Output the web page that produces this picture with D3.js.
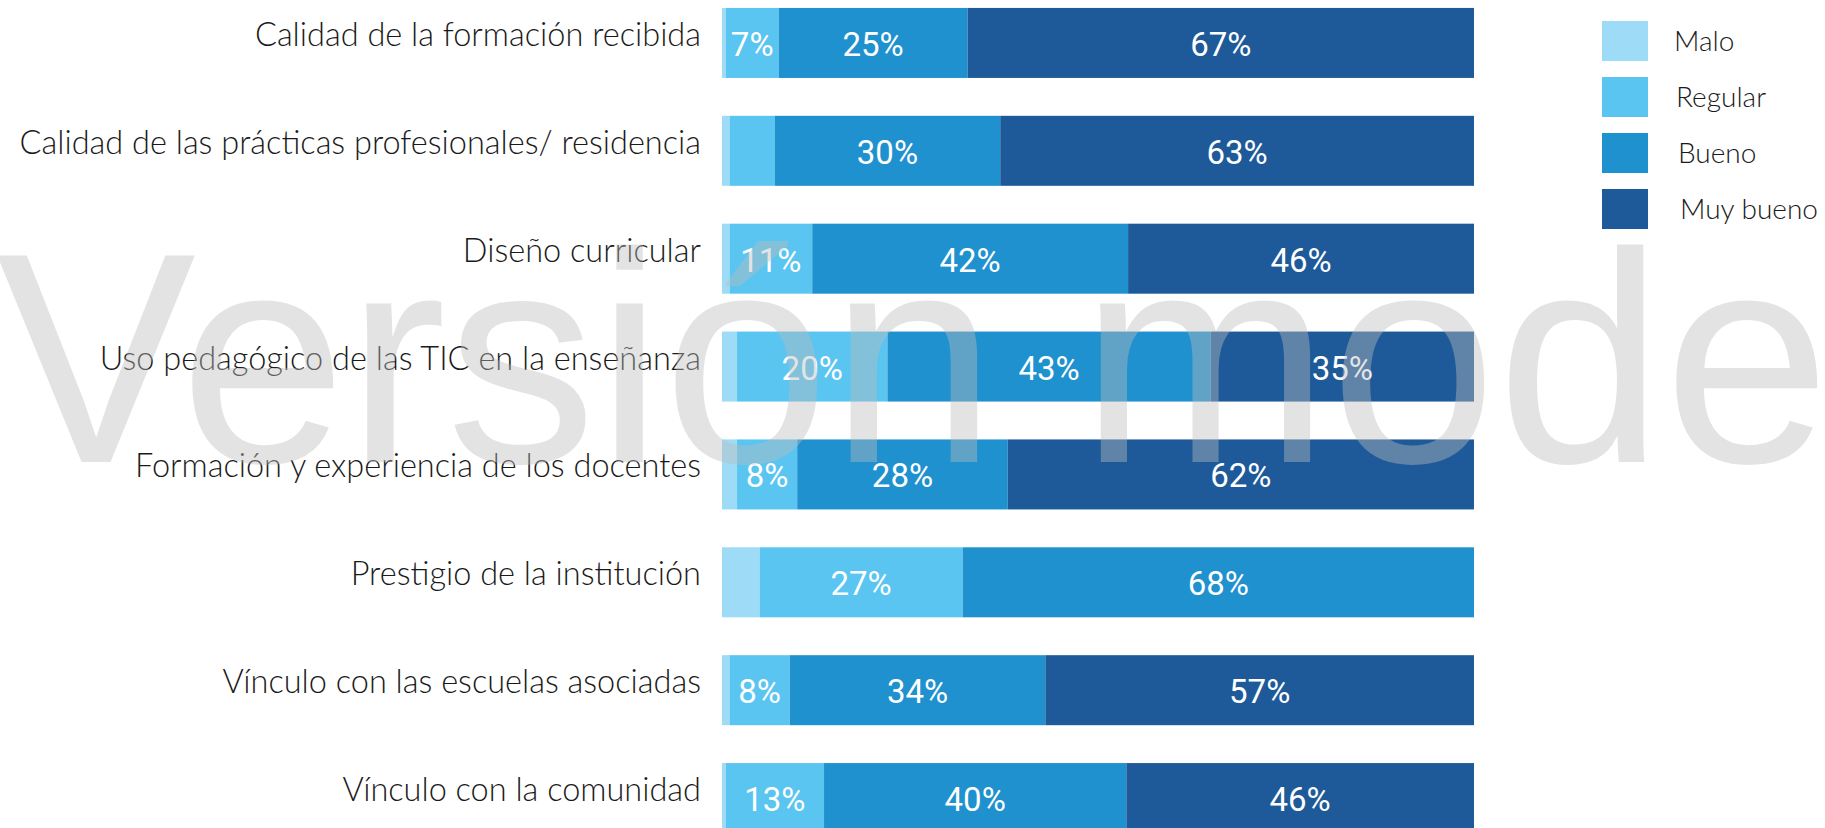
<!DOCTYPE html>
<meta charset="utf-8">
<script src="https://d3js.org/d3.v7.min.js"></script>
<style>
    body { margin: 0; background-color: white; overflow: hidden; }
    svg { display: block; }
</style>
<body>
<div id="chart"></div>
<script>
    // categories (top to bottom) and the share of each answer, in %
    const categorias = [
        "Calidad de la formación recibida",
        "Calidad de las prácticas profesionales/ residencia",
        "Diseño curricular",
        "Uso pedagógico de las TIC en la enseñanza",
        "Formación y experiencia de los docentes",
        "Prestigio de la institución",
        "Vínculo con las escuelas asociadas",
        "Vínculo con la comunidad"
    ];
    const respuestas = ["Malo", "Regular", "Bueno", "Muy bueno"];
    const malo     = [0.5, 1, 1, 2, 2, 5, 1, 0.5];
    const regular  = [7, 6, 11, 20, 8, 27, 8, 13];
    const bueno    = [25, 30, 42, 43, 28, 68, 34, 40];
    const muyBueno = [67, 63, 46, 35, 62, 0, 57, 46];
    const colores  = ["#9ddbf6", "#5bc5f2", "#1f91cf", "#1e5a99"];
    const marcaAgua = "Versión modelo";

    var width = 1825, height = 828;

    // build rows for d3.stack
    var rows = categorias.map(function (c, i) {
        return { cat: c, "Malo": malo[i], "Regular": regular[i], "Bueno": bueno[i], "Muy bueno": muyBueno[i] };
    });

    var stacked = d3.stack()
        .keys(respuestas)
        .offset(d3.stackOffsetExpand)(rows);

    var svg = d3.select("#chart").append("svg")
        .attr("width", width)
        .attr("height", height);

    var x = d3.scaleLinear()
        .domain([0, 1])
        .range([722, 1474]);

    var y = d3.scaleBand()
        .domain(categorias)
        .range([-11, 852])
        .paddingInner(0.351)
        .paddingOuter(0.1755);

    // bars
    var series = svg.selectAll("g.series")
        .data(stacked)
        .enter().append("g")
        .attr("class", "series")
        .attr("fill", function (d, i) { return colores[i]; });

    series.selectAll("rect")
        .data(function (d) { return d; })
        .enter().append("rect")
        .attr("x", function (d) { return x(d[0]); })
        .attr("width", function (d) { return x(d[1]) - x(d[0]); })
        .attr("y", function (d) { return y(d.data.cat); })
        .attr("height", y.bandwidth());

    // value labels inside the segments
    series.each(function (s) {
        d3.select(this).selectAll("text")
            .data(s.filter(function (d) { return d.data[s.key] >= 7; }))
            .enter().append("text")
            .attr("x", function (d) { return (x(d[0]) + x(d[1])) / 2; })
            .attr("y", function (d) { return y(d.data.cat) + y.bandwidth() / 2 + 13; })
            .attr("text-anchor", "middle")
            .attr("fill", "white")
            .style("font-family", "Roboto, sans-serif")
            .style("font-size", "33px")
            .text(function (d) { return d.data[s.key] + "%"; });
    });

    // category labels
    svg.append("g").selectAll("text")
        .data(categorias)
        .enter().append("text")
        .attr("x", 701)
        .attr("y", function (d) { return y(d) + y.bandwidth() / 2 + 3; })
        .attr("text-anchor", "end")
        .attr("fill", "#1a1a1a")
        .style("font-family", "Lato, sans-serif")
        .style("font-weight", 300)
        .style("font-size", "32.5px")
        .text(function (d) { return d; });

    // legend
    var legend = svg.append("g").selectAll("g")
        .data(respuestas)
        .enter().append("g")
        .attr("transform", function (d, i) { return "translate(1602," + (21 + i * 56) + ")"; });

    legend.append("rect")
        .attr("width", 46)
        .attr("height", 40)
        .attr("fill", function (d, i) { return colores[i]; });

    legend.append("text")
        .attr("x", function (d, i) { return 72 + i * 2; })
        .attr("y", 30)
        .attr("fill", "#1a1a1a")
        .style("font-family", "Lato, sans-serif")
        .style("font-weight", 300)
        .style("font-size", "28px")
        .text(function (d) { return d; });

    // watermark on top
    svg.append("text")
        .attr("x", -4)
        .attr("y", 462)
        .attr("fill", "#bcbcbc")
        .attr("fill-opacity", 0.42)
        .style("font-family", "'Liberation Sans', Arial, sans-serif")
        .style("font-size", "300px")
        .style("pointer-events", "none")
        .text(marcaAgua);
</script>
</body>
